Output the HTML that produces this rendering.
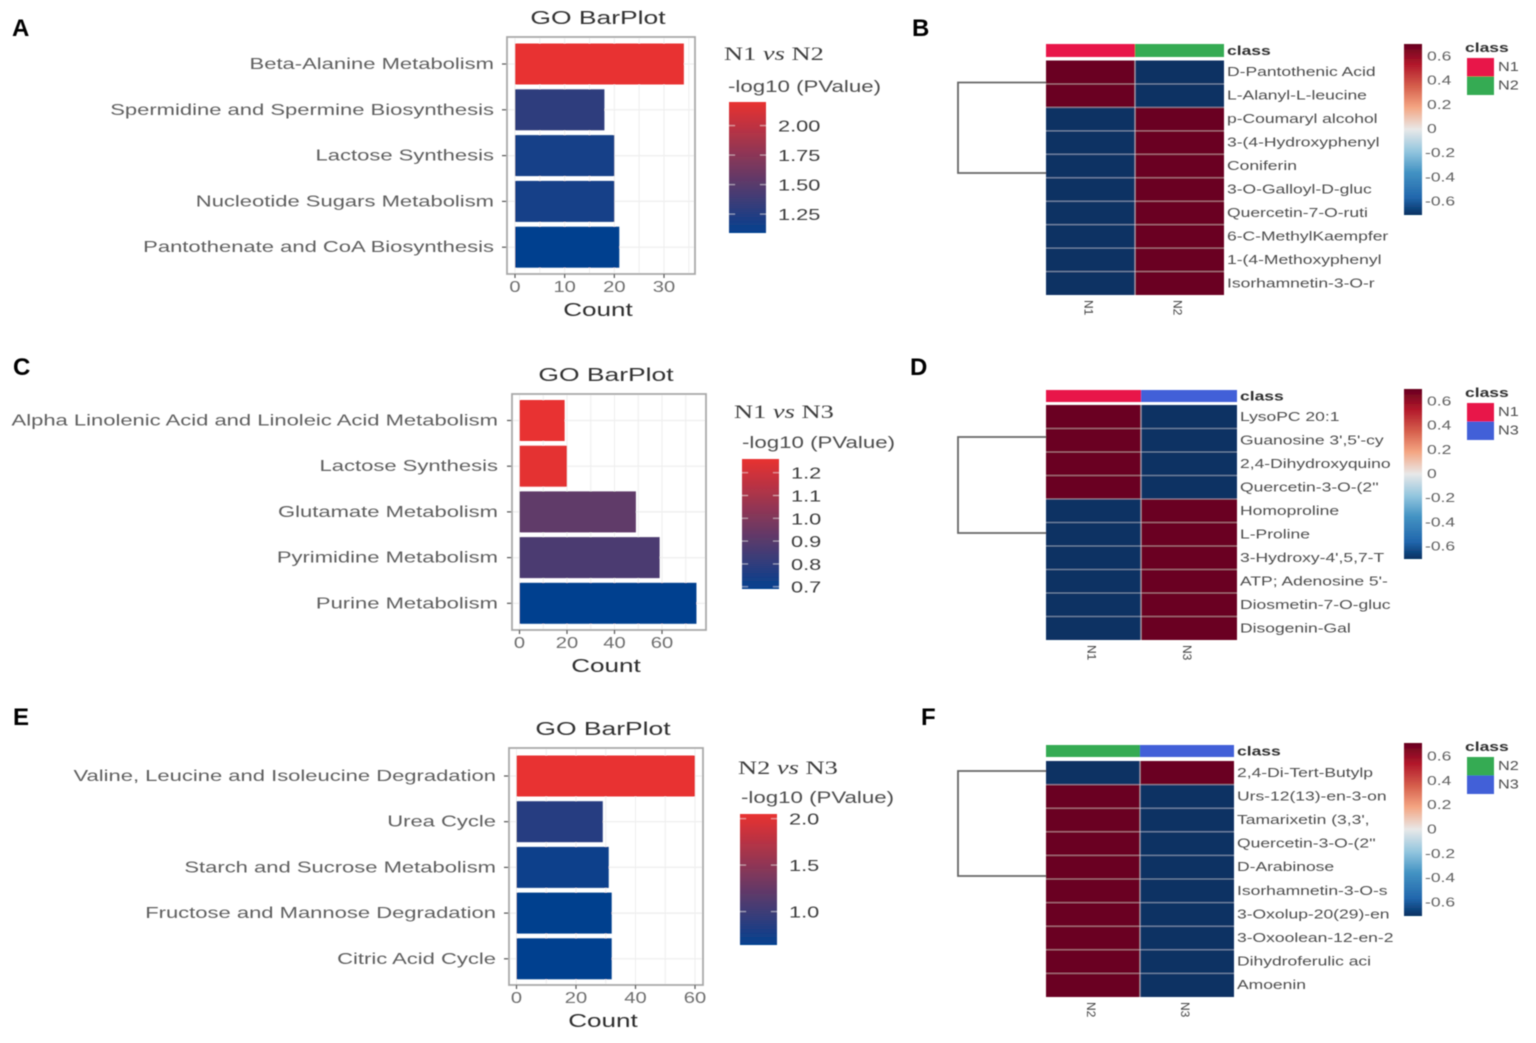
<!DOCTYPE html>
<html lang="en">
<head>
<meta charset="utf-8">
<title>GO BarPlots and metabolite heatmaps</title>
<style>
html,body{margin:0;padding:0;background:#fff;width:1536px;height:1043px;overflow:hidden}
svg{display:block}
text{font-family:"Liberation Sans",sans-serif}
</style>
</head>
<body>
<svg id="figure" xmlns="http://www.w3.org/2000/svg" width="1536" height="1043" viewBox="0 0 1536 1043">
<defs>
<filter id="soft" x="-2%" y="-2%" width="104%" height="104%"><feGaussianBlur stdDeviation="0.55"/></filter>
<linearGradient id="barGrad" x1="0" y1="1" x2="0" y2="0"><stop offset="0" stop-color="#04408f"/><stop offset="1" stop-color="#e83030"/></linearGradient>
<linearGradient id="heatGrad" x1="0" y1="1" x2="0" y2="0">
<stop offset="0" stop-color="#053061"/><stop offset="0.1" stop-color="#2166ac"/><stop offset="0.25" stop-color="#4393c3"/><stop offset="0.37" stop-color="#92c5de"/><stop offset="0.5" stop-color="#e8e8e8"/><stop offset="0.63" stop-color="#f4a582"/><stop offset="0.75" stop-color="#d6604d"/><stop offset="0.88" stop-color="#b2182b"/><stop offset="1" stop-color="#67001f"/>
</linearGradient>
</defs>
<g id="root" filter="url(#soft)"></g>
</svg>
<script>
// ---- Panel A data
const aCategories = ["Beta-Alanine Metabolism","Spermidine and Spermine Biosynthesis","Lactose Synthesis","Nucleotide Sugars Metabolism","Pantothenate and CoA Biosynthesis"];
const aCounts = [34,18,20,20,21];
const aPValues = [2.2,1.3,1.17,1.17,1.09];
const aCountTicks = [0,10,20,30];
const aColorTicks = ["2.00","1.75","1.50","1.25"];
const aColorDomain = [1.09,2.2];
// ---- Panel C data
const cCategories = ["Alpha Linolenic Acid and Linoleic Acid Metabolism","Lactose Synthesis","Glutamate Metabolism","Pyrimidine Metabolism","Purine Metabolism"];
const cCounts = [19,20,49,59,74.5];
const cPValues = [1.26,1.25,0.92,0.87,0.69];
const cCountTicks = [0,20,40,60];
const cColorTicks = ["1.2","1.1","1.0","0.9","0.8","0.7"];
const cColorDomain = [0.69,1.26];
// ---- Panel E data
const eCategories = ["Valine, Leucine and Isoleucine Degradation","Urea Cycle","Starch and Sucrose Metabolism","Fructose and Mannose Degradation","Citric Acid Cycle"];
const eCounts = [60,29,31,32,32];
const ePValues = [2.05,0.85,0.7,0.65,0.64];
const eCountTicks = [0,20,40,60];
const eColorTicks = ["2.0","1.5","1.0"];
const eColorDomain = [0.64,2.05];
// ---- Panel B data
const bRows = ["D-Pantothenic Acid","L-Alanyl-L-leucine","p-Coumaryl alcohol","3-(4-Hydroxyphenyl","Coniferin","3-O-Galloyl-D-gluc","Quercetin-7-O-ruti","6-C-MethylKaempfer","1-(4-Methoxyphenyl","Isorhamnetin-3-O-r"];
const bColumns = ["N1","N2"];
const bLeftValues = [0.7,0.7,-0.7,-0.7,-0.7,-0.7,-0.7,-0.7,-0.7,-0.7];
const bRightValues = [-0.7,-0.7,0.7,0.7,0.7,0.7,0.7,0.7,0.7,0.7];
// ---- Panel D data
const dRows = ["LysoPC 20:1","Guanosine 3',5'-cy","2,4-Dihydroxyquino","Quercetin-3-O-(2''","Homoproline","L-Proline","3-Hydroxy-4',5,7-T","ATP; Adenosine 5'-","Diosmetin-7-O-gluc","Disogenin-Gal"];
const dColumns = ["N1","N3"];
const dLeftValues = [0.7,0.7,0.7,0.7,-0.7,-0.7,-0.7,-0.7,-0.7,-0.7];
const dRightValues = [-0.7,-0.7,-0.7,-0.7,0.7,0.7,0.7,0.7,0.7,0.7];
// ---- Panel F data
const fRows = ["2,4-Di-Tert-Butylp","Urs-12(13)-en-3-on","Tamarixetin (3,3',","Quercetin-3-O-(2''","D-Arabinose","Isorhamnetin-3-O-s","3-Oxolup-20(29)-en","3-Oxoolean-12-en-2","Dihydroferulic aci","Amoenin"];
const fColumns = ["N2","N3"];
const fLeftValues = [-0.7,0.7,0.7,0.7,0.7,0.7,0.7,0.7,0.7,0.7];
const fRightValues = [0.7,-0.7,-0.7,-0.7,-0.7,-0.7,-0.7,-0.7,-0.7,-0.7];
// ---- Shared heatmap scale ticks
const heatTicks = [0.6,0.4,0.2,0,-0.2,-0.4,-0.6];

const NS = "http://www.w3.org/2000/svg";
const root = document.getElementById("root");
const classColors = {N1:"#e8174a",N2:"#35ab52",N3:"#4260d8"};

function shape(tag, attrs, parent){
  const el = document.createElementNS(NS, tag);
  for(const k in attrs) el.setAttribute(k, attrs[k]);
  (parent||root).appendChild(el);
  return el;
}
function label(str, x, y, o, parent){
  o = o||{};
  const sx = o.sx||1;
  const el = document.createElementNS(NS,"text");
  el.setAttribute("transform","translate("+x+" "+y+") scale("+sx+" 1)"+(o.rotate?" rotate("+o.rotate+")":""));
  el.setAttribute("font-size",o.size||14);
  el.setAttribute("fill",o.fill||"#555");
  el.setAttribute("text-anchor",o.anchor||"start");
  if(o.weight) el.setAttribute("font-weight",o.weight);
  if(o.family) el.style.fontFamily = o.family;
  el.textContent = str;
  (parent||root).appendChild(el);
  return el;
}
function scale(d0,d1,r0,r1){ return v => r0 + (v-d0)*(r1-r0)/(d1-d0); }
function mix(t){
  const a=[4,64,143], b=[232,48,48];
  t=Math.max(0,Math.min(1,t));
  return "rgb("+a.map((c,i)=>Math.round(c+(b[i]-c)*t)).join(",")+")";
}

function barPanel(id, p, categories, counts, pvalues, countTicks, colorTicks, colorDomain){
  const g = shape("g",{});
  
  
  const x = scale(p.xd[0],p.xd[1],p.xr[0],p.xr[1]);
  const y = i => p.y0 + i*p.step;
  const minorStep = (countTicks[1]-countTicks[0])/2;
  // gridlines
  for(let v=0; x(v)<p.right; v+=minorStep){
    const gl = shape("line",{x1:x(v),x2:x(v),y1:p.top,y2:p.bottom,stroke:"#eeeeee","stroke-width":1},g);
    
    
  }
  categories.forEach((c,i)=>{
    const gl = shape("line",{x1:p.left,x2:p.right,y1:y(i),y2:y(i),stroke:"#eeeeee","stroke-width":1.2},g);
    
    
  });
  // bars
  categories.forEach((c,i)=>{
    const t = (pvalues[i]-colorDomain[0])/(colorDomain[1]-colorDomain[0]);
    const b = shape("rect",{x:x(0),y:y(i)-p.barH/2,width:x(counts[i])-x(0),height:p.barH,fill:mix(t)},g);
    
    
    const tk = shape("line",{x1:p.left-5,x2:p.left,y1:y(i),y2:y(i),stroke:"#555","stroke-width":1.2},g);
    
    
    const lb = label(c,p.labelX,y(i)+5,{size:15.5,fill:"#5e5e5e",anchor:"end",sx:p.sx},g);
    
    
  });
  // frame
  const fr = shape("rect",{x:p.left,y:p.top,width:p.right-p.left,height:p.bottom-p.top,fill:"none",stroke:"#a9a9a9","stroke-width":1.8},g);
  
  
  countTicks.forEach(v=>{
    const tk = shape("line",{x1:x(v),x2:x(v),y1:p.bottom,y2:p.bottom+4,stroke:"#555","stroke-width":1.2},g);
    
    
    const lb = label(String(v),x(v),p.bottom+18,{size:15.5,fill:"#6e6e6e",anchor:"middle",sx:1.3},g);
    
    
  });
  const cx=(p.left+p.right)/2-3;
  const title = label("GO BarPlot",cx,p.top-13,{size:18.5,fill:"#333",anchor:"middle",sx:1.43},g);
  
  
  const xt = label("Count",cx,p.bottom+42,{size:18.5,fill:"#2e2e2e",anchor:"middle",sx:1.41},g);
  
  
  // comparison text
  const cmp = document.createElementNS(NS,"text");
  cmp.setAttribute("transform","translate("+p.cmpX+" "+p.cmpY+") scale(1.39 1)");
  cmp.setAttribute("font-size",19);
  cmp.setAttribute("fill","#3c3c3c");
  cmp.style.fontFamily='"Liberation Serif",serif';
  cmp.textContent = p.cmp[0]+" ";
  const vs = document.createElementNS(NS,"tspan");
  vs.setAttribute("font-style","italic");
  vs.textContent="vs";
  cmp.appendChild(vs);
  cmp.appendChild(document.createTextNode(" "+p.cmp[1]));
  g.appendChild(cmp);
  
  
  const lt = label("-log10 (PValue)",p.legX,p.legY,{size:16.5,fill:"#4e4e4e",sx:1.35},g);
  
  
  const cb = shape("rect",{x:p.cbX,y:p.cbY,width:37,height:p.cbH,fill:"url(#barGrad)"},g);
  
  
  const cs = scale(colorDomain[0],colorDomain[1],p.cbY+p.cbH,p.cbY);
  colorTicks.forEach(t=>{
    const yy = cs(parseFloat(t));
    const t1 = shape("line",{x1:p.cbX,x2:p.cbX+6,y1:yy,y2:yy,stroke:"#fff","stroke-opacity":0.55,"stroke-width":1},g);
    
    
    const t2 = shape("line",{x1:p.cbX+31,x2:p.cbX+37,y1:yy,y2:yy,stroke:"#fff","stroke-opacity":0.55,"stroke-width":1},g);
    
    
    const tl = label(t,p.cbX+49,yy+6,{size:16,fill:"#3c3c3c",sx:1.36},g);
    
    
  });
}

function heatPanel(id, p, rows, columns, leftValues, rightValues){
  const g = shape("g",{});
  
  
  const colX = [p.left,p.mid,p.right];
  const rowH = (p.bottom-p.top)/rows.length;
  const rowY = i => p.top + i*rowH;
  const heat = v => v>0 ? "#6a0220" : "#0a3064";
  columns.forEach((c,j)=>{
    const a = shape("rect",{x:colX[j],y:p.annTop,width:colX[j+1]-colX[j],height:p.annH,fill:classColors[c]},g);
    
    
    const vals = j===0?leftValues:rightValues;
    rows.forEach((r,i)=>{
      const cell = shape("rect",{x:colX[j],y:rowY(i),width:colX[j+1]-colX[j],height:rowH,fill:heat(vals[i])},g);
      
      
    });
    const cl = label(c,(colX[j]+colX[j+1])/2-6,p.bottom+5,{size:12,fill:"#444",rotate:90},g);
    
    
  });
  rows.forEach((r,i)=>{
    if(i>0){
      const s = shape("line",{x1:p.left,x2:p.right,y1:rowY(i),y2:rowY(i),stroke:"#fff","stroke-opacity":0.42,"stroke-width":1},g);
      
      
    }
    const t = label(r,p.right+3,rowY(i)+rowH/2+4,{size:12.5,fill:"#4e4e4e",sx:1.4},g);
    
    
  });
  const sep = shape("line",{x1:p.mid,x2:p.mid,y1:p.top,y2:p.bottom,stroke:"#fff","stroke-opacity":0.5,"stroke-width":1.2},g);
  
  
  const ct = label("class",p.right+3,p.annTop+p.annH/2+4.5,{size:12.5,fill:"#2e2e2e",weight:"bold",sx:1.4},g);
  
  
  const den = shape("path",{d:"M"+p.left+" "+p.denA+"H"+p.denX+"V"+p.denB+"H"+p.left,fill:"none",stroke:"#666","stroke-width":1.8},g);
  
  
  const cb = shape("rect",{x:p.cbX,y:p.cbY,width:18,height:p.cbH,fill:"url(#heatGrad)"},g);
  
  
  const cs = scale(0.6,-0.6,p.tick0,p.tick1);
  heatTicks.forEach(v=>{
    const l = label(String(v),p.cbX+(v<0?21:23),cs(v)+4.5,{size:12.5,fill:"#606060",sx:1.4},g);
    
    
  });
  const lg = label("class",p.legX,p.cbY+8,{size:12.5,fill:"#2e2e2e",weight:"bold",sx:1.4},g);
  
  
  columns.forEach((c,j)=>{
    const s = shape("rect",{x:p.legX+2,y:p.legY+j*18.5,width:27,height:18.5,fill:classColors[c]},g);
    
    
    const e = label(c,p.legX+33,p.legY+j*18.5+13,{size:12.5,fill:"#4e4e4e",sx:1.3},g);
    
    
  });
}

barPanel("panel-a",{left:507,right:695,top:37,bottom:274,xd:[0,30],xr:[515,664],y0:64,step:45.8,barH:41,labelX:494,sx:1.42,cmp:["N1","N2"],cmpX:724,cmpY:60,legX:728,legY:92,cbX:729,cbY:102,cbH:131},aCategories,aCounts,aPValues,aCountTicks,aColorTicks,aColorDomain);
barPanel("panel-c",{left:512,right:706,top:394,bottom:630,xd:[0,60],xr:[519.5,662],y0:420.5,step:45.7,barH:41,labelX:498,sx:1.42,cmp:["N1","N3"],cmpX:734,cmpY:418,legX:742,legY:448,cbX:742,cbY:459,cbH:130},cCategories,cCounts,cPValues,cCountTicks,cColorTicks,cColorDomain);
barPanel("panel-e",{left:509,right:703,top:748,bottom:985,xd:[0,60],xr:[516.5,695],y0:776,step:45.7,barH:41,labelX:496,sx:1.42,cmp:["N2","N3"],cmpX:738,cmpY:774,legX:741,legY:803,cbX:740,cbY:814,cbH:131},eCategories,eCounts,ePValues,eCountTicks,eColorTicks,eColorDomain);

heatPanel("panel-b",{left:1046,mid:1135,right:1224,annTop:44,annH:13,top:60.5,bottom:295,denX:958,denA:82.5,denB:173,cbX:1404,cbY:44,cbH:171,tick0:56,tick1:201,legX:1465,legY:58},bRows,bColumns,bLeftValues,bRightValues);
heatPanel("panel-d",{left:1046,mid:1141,right:1237,annTop:390,annH:12,top:405,bottom:640,denX:958,denA:437,denB:533,cbX:1404,cbY:389,cbH:170,tick0:401,tick1:546,legX:1465,legY:403},dRows,dColumns,dLeftValues,dRightValues);
heatPanel("panel-f",{left:1046,mid:1140,right:1234,annTop:745,annH:12,top:761,bottom:997,denX:958,denA:771,denB:876,cbX:1404,cbY:743,cbH:173,tick0:756,tick1:902,legX:1465,legY:757},fRows,fColumns,fLeftValues,fRightValues);

[["A",12,36],["B",912,36],["C",13,375],["D",910,375],["E",13,725],["F",921,725]].forEach(item=>{
  const t = label(item[0],item[1],item[2],{size:24,fill:"#000",weight:"bold"});
  
  
});
</script>
</body>
</html>
